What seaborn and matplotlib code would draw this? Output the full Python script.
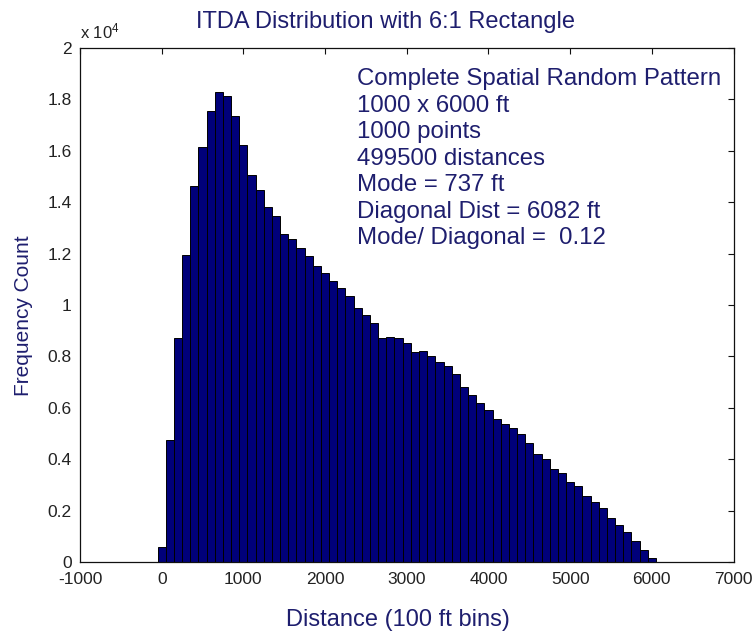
import numpy as np
import pandas as pd
import matplotlib
matplotlib.use("Agg")
import matplotlib.pyplot as plt
import seaborn as sns
from matplotlib.ticker import FuncFormatter

# ---- data ----
bin_width = 100
bin_centers = np.arange(0, 6001, 100)
counts = [600, 4750, 8720, 11940, 14630, 16160, 17540, 18290, 18120, 17350,
          16240, 15070, 14480, 13800, 13480, 12750, 12550, 12220, 11890, 11530,
          11230, 10930, 10680, 10340, 9890, 9630, 9300, 8720, 8770, 8700,
          8510, 8180, 8200, 8020, 7780, 7615, 7300, 6810, 6510, 6200,
          5930, 5580, 5380, 5210, 4990, 4630, 4220, 4020, 3630, 3460,
          3110, 2940, 2570, 2330, 2100, 1710, 1450, 1170, 800, 450,
          150]
x_ticks = [-1000, 0, 1000, 2000, 3000, 4000, 5000, 6000, 7000]
y_ticks = [0, 2000, 4000, 6000, 8000, 10000, 12000, 14000, 16000, 18000, 20000]

title = "ITDA Distribution with 6:1 Rectangle"
xlabel = "Distance (100 ft bins)"
ylabel = "Frequency Count"
info_lines = ["Complete Spatial Random Pattern",
              "1000 x 6000 ft",
              "1000 points",
              "499500 distances",
              "Mode = 737 ft",
              "Diagonal Dist = 6082 ft",
              "Mode/ Diagonal =  0.12"]

df = pd.DataFrame({"distance": bin_centers.astype(float),
                   "count": np.asarray(counts, dtype=float)})

# ---- style ----
sns.set_style("white")
plt.rcParams["font.family"] = ["Liberation Sans", "DejaVu Sans"]
plt.rcParams["mathtext.fontset"] = "custom"
plt.rcParams["mathtext.rm"] = "Liberation Sans"
plt.rcParams["mathtext.it"] = "Liberation Sans"
plt.rcParams["axes.unicode_minus"] = False

text_color = "#1e1e6e"
bar_color = "#00007a"

fig = plt.figure(figsize=(7.55, 6.39), dpi=100)
ax = fig.add_axes([80 / 755, 1 - 562 / 639, 653.5 / 755, 514 / 639])

edges = np.append(bin_centers - bin_width / 2, bin_centers[-1] + bin_width / 2)
sns.histplot(data=df, x="distance", weights="count", bins=list(edges),
             color=bar_color, edgecolor="black", linewidth=0.7, alpha=1.0,
             ax=ax)

ax.set_xlim(-1000, 7000)
ax.set_ylim(0, 20000)
ax.set_xticks(x_ticks)
ax.set_yticks(y_ticks)
ax.yaxis.set_major_formatter(FuncFormatter(lambda v, p: f"{v / 1e4:g}"))
ax.set_xlabel("")
ax.set_ylabel("")

for s in ax.spines.values():
    s.set_visible(True)
    s.set_color("#111111")
    s.set_linewidth(0.9)

ax.tick_params(direction="in", top=True, right=True, length=4, width=0.8,
               colors="#111111", labelsize=12.5, labelcolor="#222222")
ax.tick_params(axis="y", pad=6)
ax.tick_params(axis="x", pad=7.5)

ax.text(0.0, 1.012, r"x 10$^{4}$", transform=ax.transAxes, ha="left",
        va="bottom", fontsize=12, color="#222222")

fig.text(385 / 755, 1 - 28 / 639, title, ha="center", va="baseline",
         fontsize=17, color=text_color)
fig.text(398 / 755, 1 - 620 / 639, xlabel, ha="center", va="center",
         fontsize=17, color=text_color)
fig.text(24 / 755, 1 - 316 / 639, ylabel, ha="center", va="center",
         rotation=90, fontsize=15, color=text_color)

fig.text(357 / 755, 1 - 68 / 639, "\n".join(info_lines), ha="left", va="top",
         fontsize=17.3, color=text_color, linespacing=1.265)

fig.savefig("out.png", dpi=100)
